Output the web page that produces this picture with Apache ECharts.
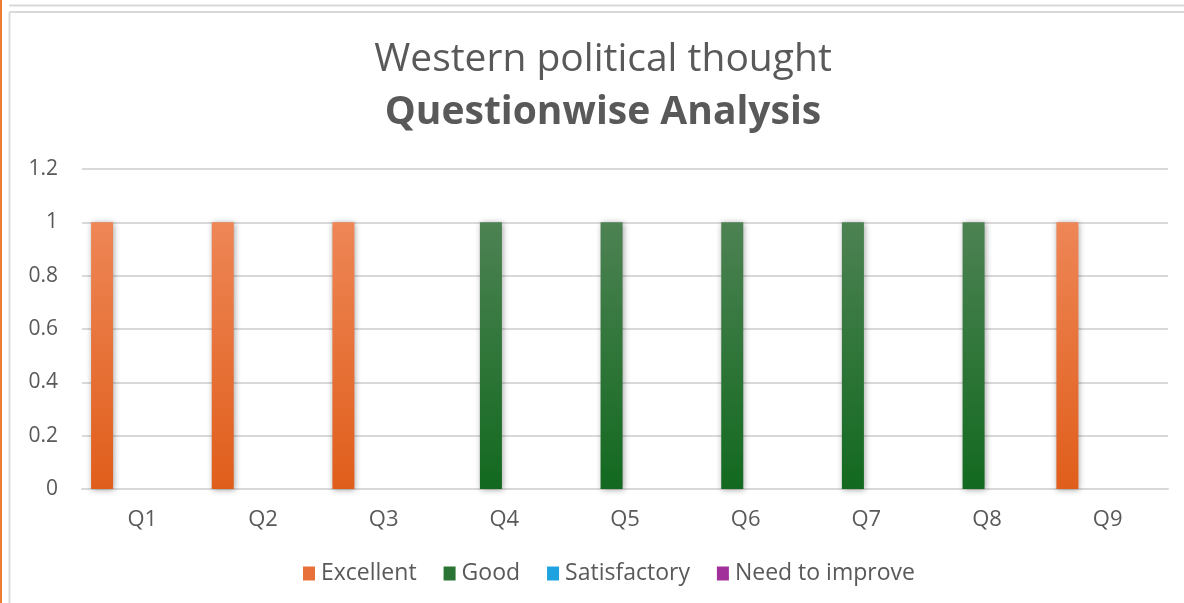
<!DOCTYPE html>
<html>
<head>
<meta charset="utf-8">
<script src="https://cdn.jsdelivr.net/npm/echarts@6/dist/echarts.min.js"></script>
<style>
html,body{margin:0;padding:0;background:#fff;}
#chart{width:1184px;height:603px;}
</style>
</head>
<body>
<div id="chart"></div>
<script>
const categories = ['Q1','Q2','Q3','Q4','Q5','Q6','Q7','Q8','Q9'];
const excellent = [1,1,1,0,0,0,0,0,1];
const good = [0,0,0,1,1,1,1,1,0];
const satisfactory = [0,0,0,0,0,0,0,0,0];
const needToImprove = [0,0,0,0,0,0,0,0,0];
const seriesNames = ['Excellent','Good','Satisfactory','Need to improve'];
const yTicks = {min:0, max:1.2, interval:0.2};

const FONT = '"Open Sans", sans-serif';
const TXT = '#595959';

function grad(top, bottom){
  return new echarts.graphic.LinearGradient(0,0,0,1,[{offset:0,color:top},{offset:1,color:bottom}]);
}
const fills = [
  grad('#EE8656','#E05E1B'),
  grad('#4D8253','#12691F'),
  grad('#4DB5E8','#0A95D8'),
  grad('#B04BA8','#941A8A')
];
const legendColors = ['#E8703A','#2A7535','#1FA3E0','#A1309A'];

const chart = echarts.init(document.getElementById('chart'), null, {renderer:'canvas'});
const dataSets = [excellent, good, satisfactory, needToImprove];

chart.setOption({
  animation:false,
  backgroundColor:'#fff',
  title:[
    {text:'Western political thought', left:598, top:35, textAlign:'center',
     textStyle:{fontFamily:FONT, fontSize:39, fontWeight:'normal', color:TXT}},
    {text:'Questionwise Analysis', left:598, top:88, textAlign:'center',
     textStyle:{fontFamily:FONT, fontSize:39, fontWeight:'bold', color:TXT}}
  ],
  graphic:[
    {type:'rect', shape:{x:0,y:0,width:2,height:603}, style:{fill:'#ED7D31'}, silent:true},
    {type:'line', shape:{x1:9,y1:5.5,x2:1184,y2:5.5}, style:{stroke:'#D9D9D9',lineWidth:2}, silent:true},
    {type:'line', shape:{x1:9.5,y1:12,x2:1184,y2:12}, style:{stroke:'#D9D9D9',lineWidth:2}, silent:true},
    {type:'line', shape:{x1:9.5,y1:12,x2:9.5,y2:603}, style:{stroke:'#D9D9D9',lineWidth:2}, silent:true}
  ],
  legend:{
    bottom:13, left:298,
    itemWidth:12, itemHeight:14, itemGap:27,
    icon:'rect',
    textStyle:{fontFamily:FONT, fontSize:23, color:TXT, padding:[0,0,0,1]},
    data: seriesNames.map((n,i)=>({name:n, itemStyle:{color:legendColors[i]}}))
  },
  grid:{left:82, right:16, top:169, bottom:114, containLabel:false},
  xAxis:{
    type:'category', data:categories,
    axisLine:{lineStyle:{color:'#D9D9D9', width:2}},
    axisTick:{show:false},
    axisLabel:{fontFamily:FONT, fontSize:22, color:TXT, margin:20}
  },
  yAxis:{
    type:'value', min:yTicks.min, max:yTicks.max, interval:yTicks.interval,
    axisLine:{show:false}, axisTick:{show:false},
    axisLabel:{fontFamily:FONT, fontSize:21, color:TXT, margin:24},
    splitLine:{lineStyle:{color:'#D9D9D9', width:2}}
  },
  series: seriesNames.map((n,i)=>({
    name:n, type:'bar', data:dataSets[i],
    barWidth:22, barGap:'22%',
    itemStyle:{color:fills[i], shadowBlur:6, shadowColor:'rgba(0,0,0,0.35)', shadowOffsetX:1, shadowOffsetY:1}
  }))
});
</script>
</body>
</html>
